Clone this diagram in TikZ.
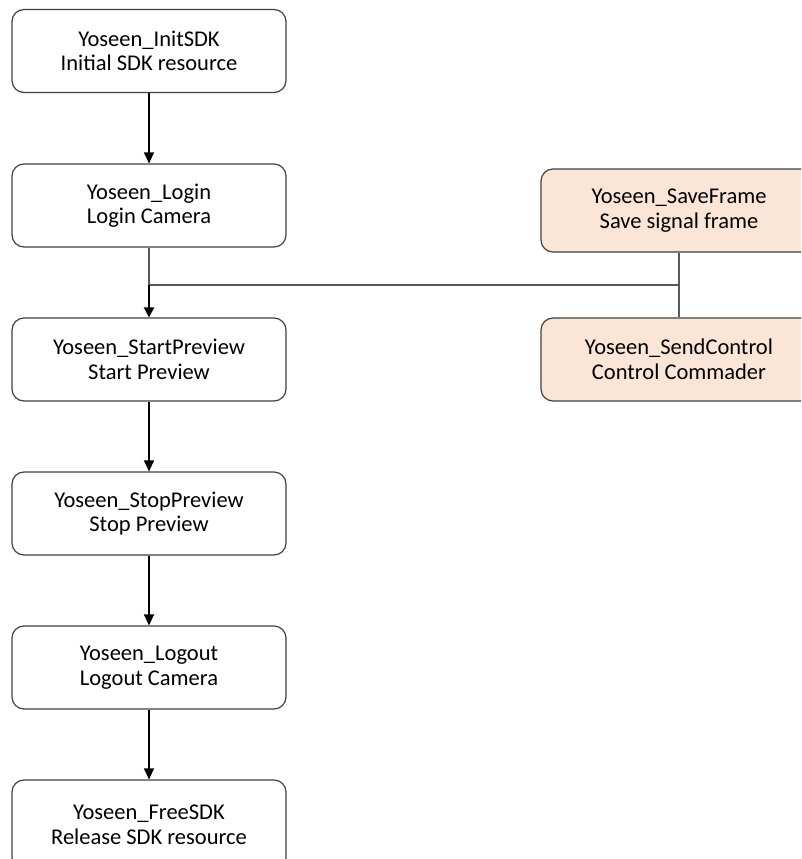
\documentclass[tikz,border=0pt]{standalone}
\usepackage{fontspec}
\setmainfont{Carlito}
\usetikzlibrary{arrows.meta}
\definecolor{boxline}{HTML}{404040}
\definecolor{peach}{HTML}{FBE5D6}
\definecolor{conn}{HTML}{595959}
\begin{document}
\begin{tikzpicture}[x=1pt,y=-1pt,
  stepbox/.style={draw=boxline, line width=1.2pt, rounded corners=12pt, fill=white,
    minimum width=274pt, minimum height=83pt, align=center,
    font=\fontsize{22.5}{24.5}\selectfont, inner sep=0pt},
  sidebox/.style={stepbox, fill=peach, minimum width=276pt},
  link/.style={draw=conn, line width=1.3pt},
  arr/.style={draw=black, line width=1.3pt, -{Triangle[width=10pt,length=11pt]}},
  thickarr/.style={draw=black, line width=2.2pt, -{Triangle[width=10pt,length=10pt]}}]
\useasboundingbox (0,0) rectangle (801,859);
\clip (0,0) rectangle (801,859);
\node[stepbox] (init) at (149,51) {Yoseen\_InitSDK\\Initial SDK resource};
\node[stepbox] (login) at (149,205.5) {Yoseen\_Login\\Login Camera};
\node[stepbox] (start) at (149,359.5) {Yoseen\_StartPreview\\Start Preview};
\node[stepbox] (stop) at (149,513.5) {Yoseen\_StopPreview\\Stop Preview};
\node[stepbox] (logout) at (149,667.5) {Yoseen\_Logout\\Logout Camera};
\node[stepbox, minimum height=90pt] (free) at (149,825) {Yoseen\_FreeSDK\\Release SDK resource};
\node[sidebox] (save) at (679,210.5) {Yoseen\_SaveFrame\\Save signal frame};
\node[sidebox] (send) at (679,359.5) {Yoseen\_SendControl\\Control Commader};
\coordinate (j1) at (149,285);
\coordinate (j2) at (679,285);
\draw[arr] (init) -- (login);
\draw[link] (login.south) -- (j1);
\draw[link] (j1) -- (j2);
\draw[thickarr] (j1) -- (start);
\draw[link] (save) -- (send);
\draw[arr] (start) -- (stop);
\draw[arr] (stop) -- (logout);
\draw[arr] (logout) -- (free);
\end{tikzpicture}
\end{document}
